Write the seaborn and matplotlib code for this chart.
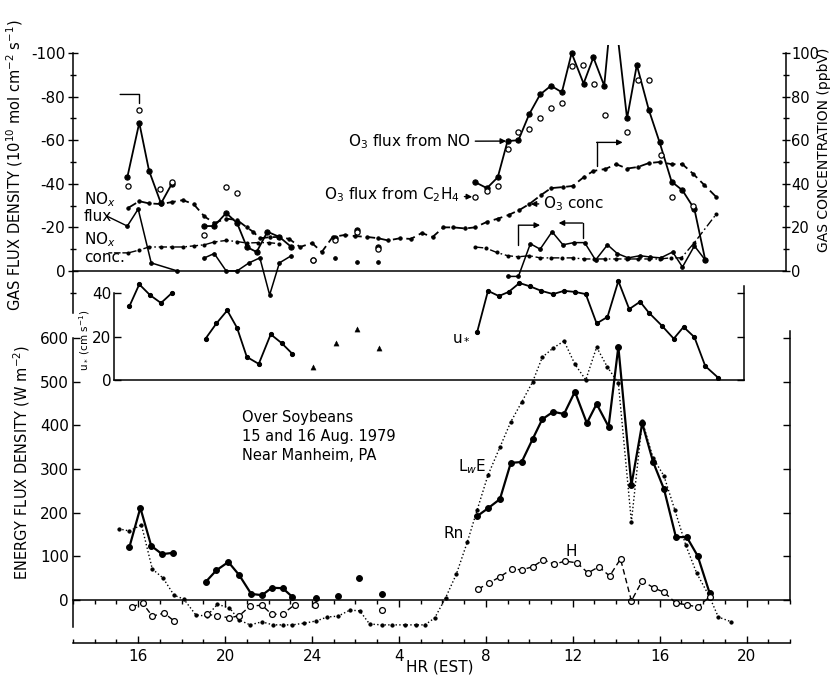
import numpy as np
import pandas as pd
import matplotlib
matplotlib.use("Agg")
import matplotlib.pyplot as plt
import seaborn as sns

sns.set_theme(style="white")
plt.rcParams["font.family"] = ["DejaVu Sans"]
plt.rcParams["axes.unicode_minus"] = False
plt.rcParams["text.color"] = "black"
plt.rcParams["xtick.color"] = "black"
plt.rcParams["ytick.color"] = "black"

# hours are counted from 0000 EST 15 Aug (24-46 = 16 Aug)
hr_ticks = [16, 20, 24, 28, 32, 36, 40, 44]
hr_labels = ["16", "20", "24", "4", "8", "12", "16", "20"]

# ---- gas panel: fluxes (10^10 mol cm-2 s-1), negative = downward ----
o3no_hr = [15.5, 16.05, 16.5, 17.05, 17.55,
           19.05, 19.5, 20.05, 20.55, 21.0, 21.45, 21.95, 22.5, 23.05,
           24.05, 25.05, 26.05, 27.05,
           31.5, 32.05, 32.55, 33.0, 33.5, 34.0, 34.5, 35.0, 35.5, 35.95, 36.5,
           36.95, 37.45, 37.85, 38.5, 38.95, 39.5, 40.0, 40.55, 41.05, 41.6, 42.1]
o3no_val = [-43, -68, -46, -31, -40,
            -20.6, -20.6, -26.6, -22, -11, -8.7, -18, -15.6, -11,
            -5, -15, -19, -11,
            -40.8, -38, -43, -59.6, -60, -72, -81, -85, -82, -100, -86,
            -98, -85, -127, -70, -94.5, -74, -59, -41, -37, -28.4, -5]
o3no_seg = [0] * 5 + [1] * 9 + [2, 3, 4, 5] + [6] * 22

c2h4_hr = [15.55, 16.05, 17.0, 17.55, 19.05, 20.05, 20.55,
           24.05, 25.05, 26.05, 27.05,
           31.5, 32.05, 32.55, 33.0, 33.5, 34.0, 34.5, 35.0, 35.5, 35.95, 36.45,
           37.0, 37.5, 38.5, 39.0, 39.5, 40.05, 40.55, 41.55]
c2h4_val = [-39, -74, -37.6, -41, -16.5, -38.5, -35.8,
            -5, -14, -18, -10,
            -34, -36.7, -39, -56, -64, -65, -70, -75, -77, -94, -94.5,
            -86, -71.6, -64, -87.6, -87.6, -53, -34, -30]

noxf_hr = [15.5, 16.0, 16.6, 17.8,
           19.05, 19.5, 20.05, 20.55, 21.1, 21.6, 22.05, 22.5, 23.05,
           25.05, 26.05, 27.05,
           33.0, 33.5, 34.05, 34.5, 35.05, 35.55, 36.05, 36.55, 37.05, 37.6,
           38.05, 38.55, 39.1, 39.55, 40.05, 40.6, 41.05, 41.6, 42.1]
noxf_val = [-20.6, -28.4, -3.7, 0,
            -6, -8, 0, 0, -3.7, -6, 11, -3.7, -7,
            -6, -4, -4,
            2.5, 2.5, -12.5, -10, -18, -12, -13, -13, -5, -12,
            -8, -6, -7, -6.4, -6, -8.7, -1.8, -11.5, -5]
noxf_seg = [0] * 4 + [1] * 9 + [2, 3, 4] + [5] * 19

# ---- gas panel: concentrations (ppbV) ----
o3c_hr = [15.55, 16.05, 16.5, 17.05, 17.55, 18.05, 18.55, 19.05, 19.5, 20.05,
          20.55, 21.0, 21.3, 21.6, 22.05, 22.5, 22.95, 23.45, 24.0, 24.45,
          24.95, 25.5, 26.0, 26.55, 27.05, 27.5, 28.05, 28.55, 29.05, 29.55,
          30.05, 30.5, 31.05, 31.5, 32.05, 32.55, 33.05, 33.55, 34.0, 34.55,
          35.0, 35.55, 36.0, 36.5, 36.95, 37.5, 38.0, 38.5, 39.0, 39.5,
          40.0, 40.55, 41.05, 41.55, 42.05, 42.6]
o3c_val = [29, 32, 31, 30.7, 31.6, 32.5, 30.7, 25, 22, 24,
           23.4, 20, 17.9, 15, 15.5, 15.6, 14.7, 11, 12.8, 8.7,
           15.6, 16.5, 16, 15.6, 15, 14, 15, 14.7, 17.4, 15.6,
           20, 20, 19.5, 20, 22.5, 24, 25.7, 28, 30.7, 34.9,
           38, 38.5, 39, 43, 45.9, 46.8, 49, 47, 47.7, 49.5,
           50, 49, 49, 44.5, 39.5, 34]

noxc_hr = [15.55, 16.05, 16.5, 17.05, 17.55, 18.05, 18.55, 19.05, 19.5, 20.05,
           20.55, 21.0, 21.5, 22.0, 22.5,
           31.5, 32.0, 32.5, 33.0, 33.5, 34.0, 34.5, 35.0, 35.5, 36.0, 36.5,
           37.0, 37.5, 38.0, 38.5, 39.0, 39.5, 40.0, 40.5, 41.0, 41.6, 42.6]
noxc_val = [8.3, 9.6, 11, 11, 11, 11, 11.5, 12, 13.3, 14,
            13.5, 12.8, 13, 13, 12.5,
            11, 10.5, 8.5, 7, 6.5, 7, 6, 6, 6, 6, 5.5,
            5.5, 5.5, 5.5, 5.5, 5.5, 5.5, 5.5, 6, 6, 13, 26]
noxc_seg = [0] * 15 + [1] * 22

# time-shift brackets drawn on the flux panel
brk_start = [16.05, 37.1, 33.5, 36.45]
brk_end = [15.17, 38.3, 34.5, 35.35]
brk_level = [-81, -59, -21, -22]
brk_drop = [-77, -48, -12, -15]
brk_arrow = [False, True, True, True]

# ---- friction velocity u* (cm s-1) ----
ustar_hr = [15.6, 16.05, 16.55, 17.05, 17.55,
            19.1, 19.6, 20.1, 20.55, 21.0, 21.55, 22.1, 22.6, 23.1,
            31.6, 32.1, 32.6, 33.05, 33.55, 34.05, 34.55, 35.1, 35.6, 36.1,
            36.6, 37.1, 37.6, 38.1, 38.6, 39.1, 39.5, 40.1, 40.65, 41.1,
            41.6, 42.1, 42.7]
ustar_val = [34, 44, 39, 35.4, 40,
             19, 26, 32, 24, 10.6, 7.4, 21, 17, 12,
             22, 41, 38.6, 40.5, 44.6, 43, 41, 39.5, 41, 40.5,
             39.5, 26, 29, 45.5, 32.6, 36, 31, 25, 19, 24.4,
             19.7, 6.4, 1]
ustar_seg = [0] * 5 + [1] * 9 + [2] * 23
ustar_iso_hr = [24.05, 25.1, 26.05, 27.1]
ustar_iso_val = [6, 17, 23.4, 14.7]

# ---- energy fluxes (W m-2) ----
rn_hr = [15.1, 15.6, 16.15, 16.65, 17.15, 17.65, 18.1, 18.65, 19.15, 19.65,
         20.2, 20.65, 21.15, 21.7, 22.2, 22.65, 23.1, 23.65, 24.2, 24.7,
         25.2, 25.75, 26.2, 26.65, 27.2, 27.7, 28.3, 28.8, 29.2, 29.65,
         30.15, 30.65, 31.15, 31.6, 32.1, 32.65, 33.15, 33.65, 34.15, 34.6,
         35.1, 35.6, 36.1, 36.6, 37.1, 37.6, 38.1, 38.7, 39.2, 39.7,
         40.2, 40.7, 41.2, 41.7, 42.3, 42.7, 43.3]
rn_val = [163, 158, 172, 71, 50, 11, 2, -34, -37, -10,
          -18, -46, -57, -50, -57, -57, -57, -53, -48, -39,
          -37, -23, -25, -55, -57, -57, -57, -57, -57, -41,
          5, 60, 133, 206, 286, 350, 408, 453, 499, 556,
          577, 593, 540, 504, 579, 533, 497, 179, 410, 325,
          284, 206, 126, 62, 7, -39, -50]

lwe_hr = [15.6, 16.1, 16.6, 17.1, 17.6,
          19.1, 19.6, 20.15, 20.65, 21.2, 21.7, 22.15, 22.65, 23.1,
          24.2, 25.2, 26.15, 27.2,
          31.6, 32.1, 32.65, 33.15, 33.65, 34.15, 34.6, 35.1, 35.6, 36.1,
          36.65, 37.1, 37.65, 38.1, 38.7, 39.2, 39.7, 40.2, 40.75, 41.25,
          41.75, 42.3]
lwe_val = [122, 211, 124, 105, 108,
           41, 68, 87, 57, 14, 11, 28, 27, 7,
           4, 9, 50, 14,
           192, 210, 231, 314, 316, 368, 414, 431, 426, 477,
           405, 449, 397, 580, 263, 405, 316, 254, 144, 144,
           101, 16]
lwe_seg = [0] * 5 + [1] * 9 + [2, 3, 4, 5] + [6] * 22

h_hr = [15.7, 16.2, 16.65, 17.2, 17.65,
        19.15, 19.65, 20.2, 20.65, 21.15, 21.7, 22.15, 22.65, 23.2,
        24.15, 27.2,
        31.65, 32.15, 32.65, 33.2, 33.65, 34.15, 34.65, 35.15, 35.65, 36.2,
        36.7, 37.2, 37.7, 38.2, 38.7, 39.2, 39.75, 40.2, 40.75, 41.25,
        41.75, 42.3]
h_val = [-16, -7, -37, -30, -48,
         -33, -36, -41, -36, -14, -12, -33, -32, -11,
         -11, -23,
         25, 39, 53, 71, 69, 76, 92, 82, 89, 85,
         62, 76, 55, 94, -2, 44, 27, 18, -7, -11,
         -16, 7]
h_seg = [0] * 5 + [1] * 9 + [2, 3] + [4] * 22


def seg_frame(hr, val, seg=None):
    if seg is None:
        seg = [0] * len(hr)
    return pd.DataFrame({"hr": hr, "val": val, "seg": seg})


def line(ax, hr, val, seg=None, **kw):
    sns.lineplot(data=seg_frame(hr, val, seg), x="hr", y="val", units="seg",
                 estimator=None, sort=False, color="black", ax=ax,
                 legend=False, **kw)
    ax.set(xlabel="", ylabel="")


W, H = 832, 682


def rect(x0, x1, ytop, ybot):
    return [x0 / W, 1 - ybot / H, (x1 - x0) / W, (ybot - ytop) / H]


fig = plt.figure(figsize=(W / 100, H / 100), dpi=100)
fig.patch.set_facecolor("white")

ax_e = fig.add_axes(rect(73, 790, 329, 643))
ax_g = fig.add_axes(rect(73, 790, 45, 313))
ax_c = ax_g.twinx()
ax_u = fig.add_axes(rect(73, 790, 278, 380))

for ax in (ax_e, ax_g, ax_c, ax_u):
    ax.patch.set_alpha(0)
    for sp in ax.spines.values():
        sp.set_color("black")
        sp.set_linewidth(1.1)

tick_font = 11

# ---------------- energy panel ----------------
line(ax_e, rn_hr, rn_val, linestyle=":", lw=1.0, marker="o", ms=2.3, mec="black")
line(ax_e, lwe_hr, lwe_val, lwe_seg, lw=1.6, marker="o", ms=4.2, mec="black")
line(ax_e, h_hr, h_val, h_seg, linestyle=(0, (4, 2.5)), lw=1.0, marker="o",
     ms=4.2, mfc="white", mec="black", mew=0.9)

ax_e.set_xlim(13, 46)
ax_e.set_ylim(-98.5, 620.6)
ax_e.spines["top"].set_position(("data", 0))
ax_e.spines["left"].set_bounds(-62, 600)
ax_e.spines["right"].set_bounds(0, 615)
ax_e.set_yticks(range(0, 700, 100))
ax_e.set_yticklabels([str(v) for v in range(0, 700, 100)], fontsize=tick_font)
ax_e.yaxis.set_ticks_position("both")
ax_e.tick_params(axis="y", direction="in", length=5, width=1, labelright=False,
                 pad=3)
ax_e.set_xticks(hr_ticks)
ax_e.set_xticklabels(hr_labels, fontsize=tick_font)
ax_e.set_xticks(range(13, 47), minor=True)
ax_e.xaxis.set_ticks_position("both")
ax_e.tick_params(axis="x", which="both", direction="in", width=1,
                 labeltop=False, pad=4)
ax_e.tick_params(axis="x", which="major", length=5)
ax_e.tick_params(axis="x", which="minor", length=3)

ax_e.text(20.8, 436, "Over Soybeans\n15 and 16 Aug. 1979\nNear Manheim, PA",
          ha="left", va="top", fontsize=10.5, linespacing=1.35)
ax_e.text(30.7, 305, "L$_w$E", ha="left", va="center", fontsize=11)
ax_e.text(30.5, 153, "Rn", ha="center", va="center", fontsize=11)
ax_e.text(35.95, 110, "H", ha="center", va="center", fontsize=11)

# ---------------- gas panel ----------------
line(ax_g, o3no_hr, o3no_val, o3no_seg, lw=1.3, marker="o", ms=3.8, mec="black")
line(ax_g, noxf_hr, noxf_val, noxf_seg, lw=1.1, marker="o", ms=2.6, mec="black")
sns.scatterplot(x=c2h4_hr, y=c2h4_val, ax=ax_g, marker="o", s=14,
                color="white", edgecolor="black", linewidth=0.9, zorder=4)

for s, e, lvl, drop, arrow in zip(brk_start, brk_end, brk_level, brk_drop, brk_arrow):
    ax_g.plot([s, s], [lvl, drop], color="black", lw=1)
    ax_g.annotate("", xy=(e, lvl), xytext=(s, lvl),
                  arrowprops=dict(arrowstyle="-|>" if arrow else "-", lw=1,
                                  color="black", shrinkA=0, shrinkB=0,
                                  mutation_scale=8))

ax_g.set_xlim(13, 46)
ax_g.set_ylim(19.3, -103.7)
for side in ("top", "right"):
    ax_g.spines[side].set_visible(False)
ax_g.spines["bottom"].set_position(("data", 0))
ax_g.spines["bottom"].set_bounds(13, 45.8)
ax_g.spines["left"].set_bounds(-100, 19.3)
ax_g.set_yticks(range(-100, 1, 20))
ax_g.set_yticklabels(["-100", "-80", "-60", "-40", "-20", "0"], fontsize=tick_font)
ax_g.set_yticks(range(-90, 20, 20), minor=True)
ax_g.tick_params(axis="y", which="both", direction="inout", width=1, pad=2)
ax_g.tick_params(axis="y", which="major", length=7)
ax_g.tick_params(axis="y", which="minor", length=4)
ax_g.set_xticks(range(13, 46))
ax_g.tick_params(axis="x", direction="inout", length=4, width=1,
                 labelbottom=False)

ax_g.text(13.5, -32.6, "NO$_x$", ha="left", va="center", fontsize=11)
ax_g.text(13.5, -25.2, "flux", ha="left", va="center", fontsize=11)
ax_g.text(13.5, -14.2, "NO$_x$", ha="left", va="center", fontsize=11)
ax_g.text(13.5, -6, "conc.", ha="left", va="center", fontsize=11)
ax_g.annotate("", xy=(o3no_hr[0], noxf_val[0]), xytext=(14.55, -25.2),
              arrowprops=dict(arrowstyle="-", lw=1, color="black",
                              shrinkA=0, shrinkB=0))
ax_g.annotate("O$_3$ flux from NO", xy=(o3no_hr[21], o3no_val[21]),
              xytext=(31.3, -59.5), ha="right", va="center", fontsize=11,
              arrowprops=dict(arrowstyle="-|>", lw=1, color="black",
                              shrinkA=1, shrinkB=1, mutation_scale=8))
ax_g.annotate("O$_3$ flux from C$_2$H$_4$", xy=(c2h4_hr[11], c2h4_val[11]),
              xytext=(30.8, -35), ha="right", va="center", fontsize=11,
              arrowprops=dict(arrowstyle="-|>", lw=1, color="black",
                              shrinkA=1, shrinkB=2, mutation_scale=8))

# concentrations on the right-hand axis
line(ax_c, o3c_hr, o3c_val, linestyle=(0, (5, 2.5)), lw=1.3, marker="o",
     ms=2.4, mec="black")
line(ax_c, noxc_hr, noxc_val, noxc_seg, linestyle=(0, (6, 2, 1.2, 2)), lw=1.0,
     marker="o", ms=2.2, mec="black")
ax_c.annotate("", xy=(14.65, noxc_val[0]), xytext=(noxc_hr[0], noxc_val[0]),
              arrowprops=dict(arrowstyle="-", lw=1, color="black",
                              linestyle=(0, (4, 2)), shrinkA=0, shrinkB=0))
ax_c.annotate("O$_3$ conc", xy=(o3c_hr[38], o3c_val[38]),
              xytext=(34.65, 31), ha="left", va="center", fontsize=11,
              arrowprops=dict(arrowstyle="-|>", lw=1, color="black",
                              shrinkA=1, shrinkB=1, mutation_scale=8))
ax_c.set_ylim(-19.3, 103.7)
for side in ("top", "left", "bottom"):
    ax_c.spines[side].set_visible(False)
ax_c.spines["right"].set_position(("data", 45.8))
ax_c.spines["right"].set_bounds(0, 100)
ax_c.set_yticks(range(0, 101, 20))
ax_c.set_yticklabels([str(v) for v in range(0, 101, 20)], fontsize=10.5)
ax_c.set_yticks(range(10, 100, 20), minor=True)
ax_c.tick_params(axis="y", which="both", direction="inout", width=1, pad=1)
ax_c.tick_params(axis="y", which="major", length=6)
ax_c.tick_params(axis="y", which="minor", length=4)

# ---------------- u* panel ----------------
line(ax_u, ustar_hr, ustar_val, ustar_seg, lw=1.3, marker="o", ms=3.0, mec="black")
sns.scatterplot(x=ustar_iso_hr, y=ustar_iso_val, ax=ax_u, marker="^", s=14,
                color="black", edgecolor="black", zorder=4)
ax_u.set(xlabel="", ylabel="")
ax_u.set_xlim(13, 46)
ax_u.set_ylim(0, 46.9)
ax_u.spines["top"].set_visible(False)
ax_u.spines["left"].set_position(("data", 14.9))
ax_u.spines["left"].set_bounds(0, 40)
ax_u.spines["right"].set_position(("data", 43.9))
ax_u.spines["right"].set_bounds(0, 43)
ax_u.spines["bottom"].set_bounds(14.9, 43.9)
ax_u.set_yticks([0, 20, 40])
ax_u.set_yticklabels(["0", "20", "40"], fontsize=tick_font)
ax_u.yaxis.set_ticks_position("both")
ax_u.tick_params(axis="y", direction="in", length=5, width=1, labelright=False,
                 pad=2)
ax_u.set_xticks(range(15, 44))
ax_u.tick_params(axis="x", direction="inout", length=4, width=1,
                 labelbottom=False)
ax_u.text(30.9, 19.8, "u$_*$", ha="center", va="center", fontsize=11)

# ---------------- axis titles ----------------
fig.text(15 / W, 1 - 165 / H, "GAS FLUX DENSITY (10$^{10}$ mol cm$^{-2}$ s$^{-1}$)",
         rotation=90, ha="center", va="center", fontsize=10.5)
fig.text(22 / W, 1 - 462 / H, "ENERGY FLUX DENSITY (W m$^{-2}$)",
         rotation=90, ha="center", va="center", fontsize=10.5)
fig.text(824 / W, 1 - 150 / H, "GAS CONCENTRATION (ppbV)",
         rotation=90, ha="center", va="center", fontsize=10)
fig.text(85 / W, 1 - 340 / H, "u$_*$ (cm s$^{-1}$)",
         rotation=90, ha="center", va="center", fontsize=7.5)
fig.text(440 / W, 1 - 667 / H, "HR (EST)", ha="center", va="center",
         fontsize=11)

fig.savefig("out.png", dpi=100)
